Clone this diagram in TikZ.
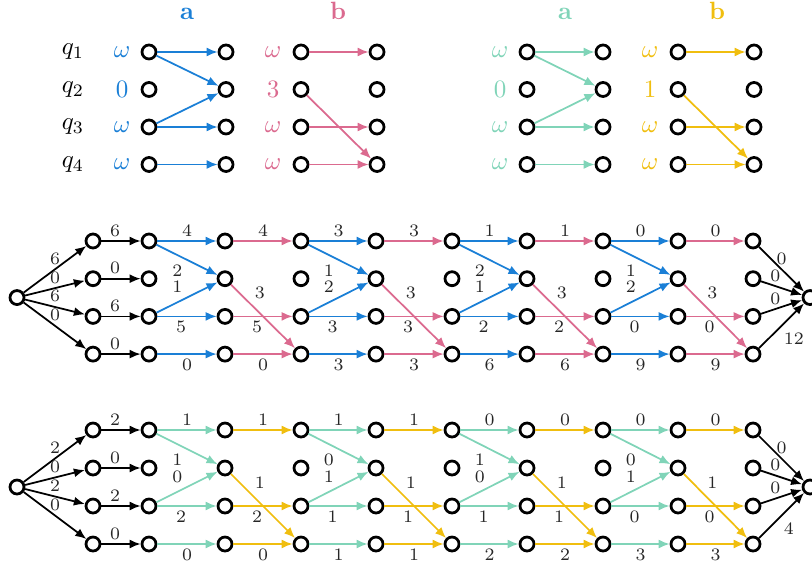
\documentclass[tikz,border=0pt]{standalone}
\usetikzlibrary{arrows.meta}
\definecolor{cA}{HTML}{1A7FD6}
\definecolor{cB}{HTML}{DB6A8F}
\definecolor{cC}{HTML}{80D4B8}
\definecolor{cD}{HTML}{F0BE0F}
\tikzset{
  st/.style={circle, draw, line width=1.1pt, minimum size=5.6pt, inner sep=0pt},
  ed/.style={-{Latex[length=4.4pt,width=3.6pt]}, line width=0.7pt},
  lb/.style={font=\scriptsize, inner sep=1.5pt, text=black!85},
  tl/.style={font=\normalsize, inner sep=0pt},
  hd/.style={font=\bfseries, inner sep=0pt, anchor=base}
}
\begin{document}
\begin{tikzpicture}[x=0.4pt,y=-0.4pt]
\useasboundingbox (0,0) rectangle (812,572);
% ---------------- top section ----------------
\node[hd,text=cA] (ha) at (187,20) {a};
\node[hd,text=cB] (hb) at (338,20) {b};
\node[hd,text=cC] (hc) at (565,20) {a};
\node[hd,text=cD] (hd) at (717,20) {b};
\foreach \r/\y in {1/52,2/89.5,3/127,4/164.5}{
  \node[tl] (q\r) at (73,\y) {$q_{\r}$};
  \node[st] (ta1-\r) at (149,\y) {};
  \node[st] (ta2-\r) at (226,\y) {};
  \node[st] (tb1-\r) at (301,\y) {};
  \node[st] (tb2-\r) at (377,\y) {};
  \node[st] (tc1-\r) at (527,\y) {};
  \node[st] (tc2-\r) at (603,\y) {};
  \node[st] (td1-\r) at (678,\y) {};
  \node[st] (td2-\r) at (754,\y) {};
}
\foreach \r/\y/\v in {1/52/\omega,2/89.5/0,3/127/\omega,4/164.5/\omega}{
  \node[tl,text=cA] (wa\r) at (122,\y) {$\v$};
  \node[tl,text=cC] (wc\r) at (500,\y) {$\v$};
}
\foreach \r/\y/\v/\u in {1/52/\omega/\omega,2/89.5/3/1,3/127/\omega/\omega,4/164.5/\omega/\omega}{
  \node[tl,text=cB] (wb\r) at (273,\y) {$\v$};
  \node[tl,text=cD] (wd\r) at (650,\y) {$\u$};
}
\foreach \L/\R/\col in {ta1/ta2/cA, tc1/tc2/cC}{
  \draw[ed,\col] (\L-1) -- (\R-1);
  \draw[ed,\col] (\L-1) -- (\R-2);
  \draw[ed,\col] (\L-3) -- (\R-2);
  \draw[ed,\col] (\L-3) -- (\R-3);
  \draw[ed,\col] (\L-4) -- (\R-4);
}
\foreach \L/\R/\col in {tb1/tb2/cB, td1/td2/cD}{
  \draw[ed,\col] (\L-1) -- (\R-1);
  \draw[ed,\col] (\L-2) -- (\R-4);
  \draw[ed,\col] (\L-3) -- (\R-3);
  \draw[ed,\col] (\L-4) -- (\R-4);
}
% ---------------- middle and bottom graphs ----------------
\foreach \g/\yy/\dy in {m/241/37.7, b/430/38}{
  \foreach \c/\x in {0/93,1/149,2/225,3/301,4/376,5/452,6/527,7/603,8/678,9/753}{
    \foreach \r in {1,...,4}{
      \node[st] (\g\c-\r) at (\x,{\yy+(\r-1)*\dy}) {};
    }
  }
  \node[st] (\g S) at (17,{\yy+1.5*\dy}) {};
  \node[st] (\g T) at (810,{\yy+1.5*\dy}) {};
}
% middle graph
\foreach \r/\l in {1/6,2/0,3/6,4/0}{
  \draw[ed] (mS) -- node[lb,above]{\l} (m0-\r);
  \draw[ed] (m0-\r) -- node[lb,above,pos=0.35]{\l} (m1-\r);
}
\foreach \c/\n/\p/\q/\r/\s/\t in {1/2/4/2/1/5/0, 3/4/3/1/2/3/3, 5/6/1/2/1/2/6, 7/8/0/1/2/0/9}{
  \draw[ed,cA] (m\c-1) -- node[lb,above]{\p} (m\n-1);
  \draw[ed,cA] (m\c-1) -- node[lb,below left]{\q} (m\n-2);
  \draw[ed,cA] (m\c-3) -- node[lb,above left]{\r} (m\n-2);
  \draw[ed,cA] (m\c-3) -- node[lb,below,pos=0.4]{\s} (m\n-3);
  \draw[ed,cA] (m\c-4) -- node[lb,below]{\t} (m\n-4);
}
\foreach \c/\n/\p/\q/\r/\s in {2/3/4/3/5/0, 4/5/3/3/3/3, 6/7/1/3/2/6, 8/9/0/3/0/9}{
  \draw[ed,cB] (m\c-1) -- node[lb,above]{\p} (m\n-1);
  \draw[ed,cB] (m\c-2) -- node[lb,above right,pos=0.3]{\q} (m\n-4);
  \draw[ed,cB] (m\c-3) -- node[lb,below,pos=0.4]{\r} (m\n-3);
  \draw[ed,cB] (m\c-4) -- node[lb,below]{\s} (m\n-4);
}
\draw[ed] (m9-1) -- node[lb,above]{0} (mT);
\draw[ed] (m9-2) -- node[lb,above,pos=0.35]{0} (mT);
\draw[ed] (m9-3) -- node[lb,above,pos=0.35]{0} (mT);
\draw[ed] (m9-4) -- node[lb,below right,pos=0.45]{12} (mT);
% bottom graph
\foreach \r/\l in {1/2,2/0,3/2,4/0}{
  \draw[ed] (bS) -- node[lb,above]{\l} (b0-\r);
  \draw[ed] (b0-\r) -- node[lb,above,pos=0.35]{\l} (b1-\r);
}
\foreach \c/\n/\p/\q/\r/\s/\t in {1/2/1/1/0/2/0, 3/4/1/0/1/1/1, 5/6/0/1/0/1/2, 7/8/0/0/1/0/3}{
  \draw[ed,cC] (b\c-1) -- node[lb,above]{\p} (b\n-1);
  \draw[ed,cC] (b\c-1) -- node[lb,below left]{\q} (b\n-2);
  \draw[ed,cC] (b\c-3) -- node[lb,above left]{\r} (b\n-2);
  \draw[ed,cC] (b\c-3) -- node[lb,below,pos=0.4]{\s} (b\n-3);
  \draw[ed,cC] (b\c-4) -- node[lb,below]{\t} (b\n-4);
}
\foreach \c/\n/\p/\q/\r/\s in {2/3/1/1/2/0, 4/5/1/1/1/1, 6/7/0/1/1/2, 8/9/0/1/0/3}{
  \draw[ed,cD] (b\c-1) -- node[lb,above]{\p} (b\n-1);
  \draw[ed,cD] (b\c-2) -- node[lb,above right,pos=0.3]{\q} (b\n-4);
  \draw[ed,cD] (b\c-3) -- node[lb,below,pos=0.4]{\r} (b\n-3);
  \draw[ed,cD] (b\c-4) -- node[lb,below]{\s} (b\n-4);
}
\draw[ed] (b9-1) -- node[lb,above]{0} (bT);
\draw[ed] (b9-2) -- node[lb,above,pos=0.35]{0} (bT);
\draw[ed] (b9-3) -- node[lb,above,pos=0.35]{0} (bT);
\draw[ed] (b9-4) -- node[lb,below right,pos=0.45]{4} (bT);
\end{tikzpicture}
\end{document}
